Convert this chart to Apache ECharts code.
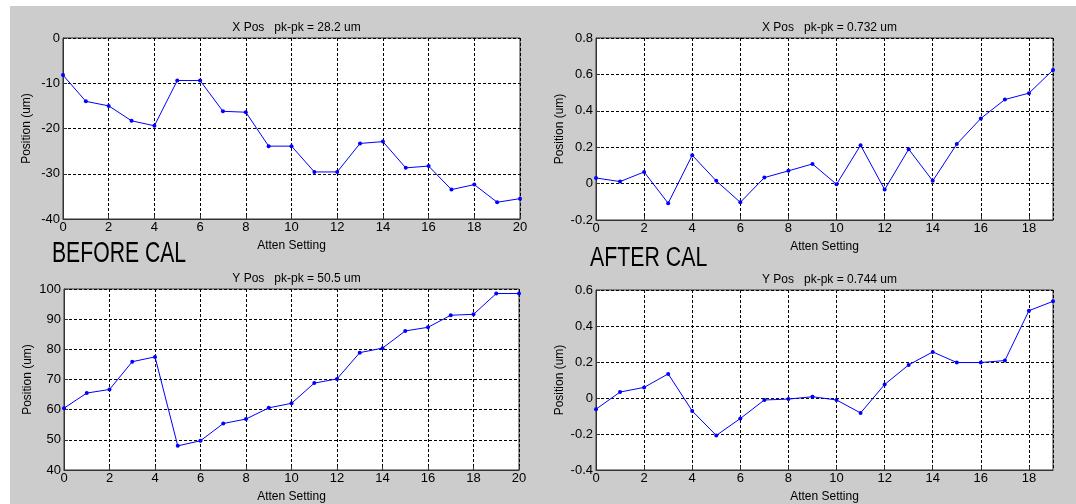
<!DOCTYPE html>
<html>
<head>
<meta charset="utf-8">
<script src="https://cdn.jsdelivr.net/npm/echarts@6/dist/echarts.min.js"></script>
<style>
html, body { margin: 0; padding: 0; background: #fff; }
#main { width: 1076px; height: 504px; }
</style>
</head>
<body>
<div id="main"></div>
<script>
// atten settings
var attenBefore = [0,1,2,3,4,5,6,7,8,9,10,11,12,13,14,15,16,17,18,19,20];
var attenAfter = [0,1,2,3,4,5,6,7,8,9,10,11,12,13,14,15,16,17,18,19];

// before cal (um)
var xPosBefore = [-8.2, -14.0, -15.0, -18.3, -19.4, -9.4, -9.4, -16.2, -16.4, -23.9, -23.9, -29.6, -29.6, -23.3, -22.9, -28.7, -28.3, -33.5, -32.4, -36.3, -35.5];
var yPosBefore = [60.5, 65.5, 66.7, 75.9, 77.5, 48.0, 49.7, 55.4, 56.9, 60.6, 62.1, 68.8, 70.2, 78.9, 80.4, 86.1, 87.3, 91.3, 91.6, 98.5, 98.5];

// after cal (um)
var xPosAfter = [0.031, 0.011, 0.064, -0.108, 0.156, 0.015, -0.103, 0.033, 0.070, 0.108, -0.004, 0.211, -0.033, 0.189, 0.015, 0.217, 0.358, 0.462, 0.497, 0.624];
var yPosAfter = [-0.062, 0.033, 0.059, 0.134, -0.072, -0.208, -0.114, -0.011, -0.006, 0.007, -0.011, -0.083, 0.075, 0.184, 0.256, 0.197, 0.197, 0.208, 0.485, 0.537];

var titles = ['X Pos   pk-pk = 28.2 um', 'X Pos   pk-pk = 0.732 um', 'Y Pos   pk-pk = 50.5 um', 'Y Pos   pk-pk = 0.744 um'];

var FONT = 'Liberation Sans';

var grids = [
	{left: 63, top: 38, width: 457, height: 181},
	{left: 596, top: 38, width: 457, height: 182},
	{left: 64, top: 289, width: 455, height: 181},
	{left: 596, top: 290, width: 457, height: 181}
];

function pairs(xs, ys) {
	var out = [];
	for (var i = 0; i < xs.length; i++) out.push([xs[i], ys[i]]);
	return out;
}

function xAxis(idx, max) {
	return {
		type: 'value', gridIndex: idx, min: 0, max: max, interval: 2,
		name: 'Atten Setting', nameLocation: 'middle', nameGap: 21,
		nameTextStyle: {fontFamily: FONT, fontSize: 12, color: '#000', verticalAlign: 'top'},
		axisLine: {show: true, onZero: false, lineStyle: {color: '#333', width: 1}},
		axisTick: {show: true, inside: true, length: 4, lineStyle: {color: '#333'}},
		axisLabel: {fontFamily: FONT, fontSize: 13, color: '#000', margin: 2, showMaxLabel: max % 2 === 0},
		splitLine: {show: true, lineStyle: {color: '#000', type: [3, 2], width: 1}}
	};
}

function yAxis(idx, min, max, interval, fmt) {
	return {
		type: 'value', gridIndex: idx, min: min, max: max, interval: interval,
		name: 'Position (um)', nameLocation: 'middle', nameGap: 30,
		nameTextStyle: {fontFamily: FONT, fontSize: 12, color: '#000'},
		axisLine: {show: true, onZero: false, lineStyle: {color: '#333', width: 1}},
		axisTick: {show: true, inside: true, length: 4, lineStyle: {color: '#333'}},
		axisLabel: {fontFamily: FONT, fontSize: 13, color: '#000', margin: 3, formatter: fmt},
		splitLine: {show: true, lineStyle: {color: '#000', type: [3, 2], width: 1}}
	};
}

function fmt1(v) { return String(Math.round(v * 10) / 10); }

function line(idx, data) {
	return {
		type: 'line', xAxisIndex: idx, yAxisIndex: idx, data: data,
		symbol: 'circle', symbolSize: 4, showSymbol: true,
		lineStyle: {color: '#0000ff', width: 1},
		itemStyle: {color: '#0000ff'},
		animation: false, silent: true
	};
}

var chart = echarts.init(document.getElementById('main'));
chart.setOption({
	backgroundColor: '#cccccc',
	animation: false,
	title: grids.map(function (g, i) {
		return {
			text: titles[i], left: g.left + g.width / 2, top: g.top - 21, textAlign: 'center',
			textStyle: {fontFamily: FONT, fontSize: 12, fontWeight: 'normal', color: '#000'}
		};
	}),
	grid: grids.map(function (g) {
		return {left: g.left, top: g.top, width: g.width, height: g.height,
			show: true, backgroundColor: '#fff', borderColor: '#333', borderWidth: 1};
	}),
	xAxis: [xAxis(0, 20), xAxis(1, 19), xAxis(2, 20), xAxis(3, 19)],
	yAxis: [
		yAxis(0, -40, 0, 10),
		yAxis(1, -0.2, 0.8, 0.2, fmt1),
		yAxis(2, 40, 100, 10),
		yAxis(3, -0.4, 0.6, 0.2, fmt1)
	],
	series: [
		line(0, pairs(attenBefore, xPosBefore)),
		line(1, pairs(attenAfter, xPosAfter)),
		line(2, pairs(attenBefore, yPosBefore)),
		line(3, pairs(attenAfter, yPosAfter))
	],
	graphic: [
		{type: 'rect', shape: {x: 0, y: 0, width: 1076, height: 6}, style: {fill: '#fff'}, silent: true},
		{type: 'rect', shape: {x: 0, y: 0, width: 10, height: 504}, style: {fill: '#fff'}, silent: true},
		{type: 'text', x: 52, y: 239, scaleX: 0.73, style: {text: 'BEFORE CAL', fontFamily: FONT, fontSize: 29, fill: '#000'}},
		{type: 'text', x: 590, y: 245, scaleX: 0.79, style: {text: 'AFTER CAL', fontFamily: FONT, fontSize: 27, fill: '#000'}}
	]
});
</script>
</body>
</html>
